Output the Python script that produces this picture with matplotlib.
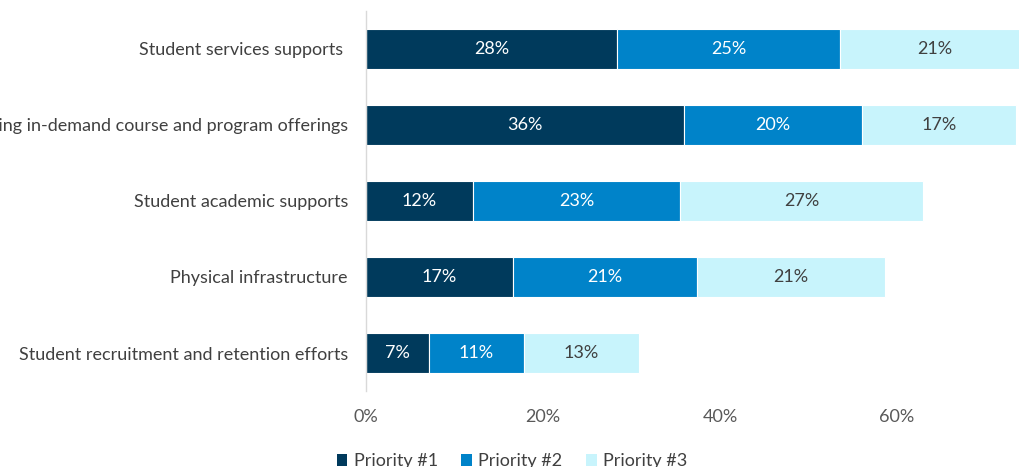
import matplotlib
matplotlib.use("Agg")
import matplotlib.pyplot as plt
from matplotlib.patches import Patch

# Survey results: share of respondents ranking each area as priority 1-3
categories = [
    "Student services supports ",
    "Developing in-demand course and program offerings",
    "Student academic supports",
    "Physical infrastructure",
    "Student recruitment and retention efforts",
]
priority_1 = [28.4, 35.9, 12.1, 16.6, 7.1]
priority_2 = [25.2, 20.2, 23.4, 20.8, 10.7]
priority_3 = [21.4, 17.4, 27.4, 21.2, 13.0]
series_names = ["Priority #1", "Priority #2", "Priority #3"]
x_ticks = [0, 20, 40, 60]

colors = ["#003A5C", "#0083C9", "#C8F4FC"]
label_colors = ["white", "white", "#404040"]

plt.rcParams["font.family"] = ["Lato", "DejaVu Sans"]
FS = 13

fig = plt.figure(figsize=(10.2, 4.67), dpi=100)
ax = fig.add_axes([366 / 1020, 76 / 467, (1074 - 366) / 1020, 380 / 467])

y = list(range(len(categories)))
left = [0.0] * len(categories)
for vals, col, lcol in zip([priority_1, priority_2, priority_3], colors, label_colors):
    bars = ax.barh(y, vals, left=left, height=0.526, color=col,
                   edgecolor="white", linewidth=0.8)
    ax.bar_label(bars, labels=[f"{v:.0f}%" for v in vals], label_type="center",
                 color=lcol, fontsize=FS)
    left = [a + b for a, b in zip(left, vals)]

ax.set_ylim(len(categories) - 0.5, -0.5)
ax.set_xlim(0, 80)
ax.set_yticks(y)
ax.set_yticklabels(categories, fontsize=FS, color="#404040")
ax.set_xticks(x_ticks)
ax.set_xticklabels([f"{t}%" for t in x_ticks], fontsize=FS, color="#595959")
ax.tick_params(axis="both", length=0)
ax.tick_params(axis="x", pad=13)
ax.tick_params(axis="y", pad=13)
for side in ["top", "right", "bottom"]:
    ax.spines[side].set_visible(False)
ax.spines["left"].set_color("#D9D9D9")
ax.spines["left"].set_linewidth(1.0)

handles = [Patch(facecolor=c, edgecolor="none") for c in colors]
fig.legend(handles, series_names, loc="center", bbox_to_anchor=(0.502, 0.012),
           ncol=3, frameon=False, fontsize=FS, handlelength=0.6,
           handleheight=0.6, handletextpad=0.35, columnspacing=1.3,
           labelcolor="#404040")

fig.savefig("out.png", dpi=100)
